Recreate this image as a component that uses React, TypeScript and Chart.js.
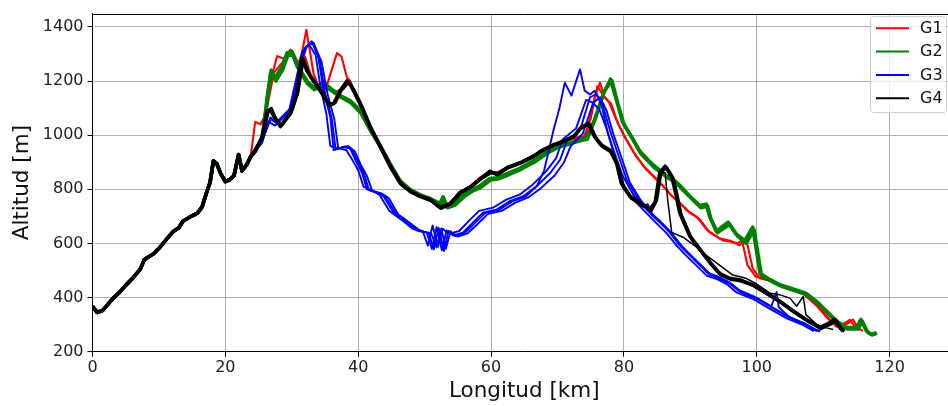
import { useEffect, useRef } from 'react';
import { Chart, registerables } from 'chart.js';

Chart.register(...registerables);

type Pt = [number, number];

const xTicks = [0, 20, 40, 60, 80, 100, 120];
const yTicks = [200, 400, 600, 800, 1000, 1200, 1400];
const groupNames = ['G1', 'G2', 'G3', 'G4'];
const groupColors = ['#ff0000', '#008000', '#0000ff', '#000000'];

// shared first part of every track [km, altitude m]
const commonStart: Pt[] = [
  [0, 368], [0.7, 345], [1.5, 352], [2.3, 375], [3.2, 400], [4.1, 420], [5, 445], [6, 470],
  [7.2, 505], [7.8, 540], [8.4, 550], [9.2, 562], [10, 582], [10.8, 605], [11.5, 626], [12.2, 645],
  [13, 658], [13.6, 682], [14.3, 692], [15, 702], [15.8, 712], [16.5, 735], [17.2, 790], [17.7, 825],
  [18.2, 905], [18.7, 895], [19.3, 858], [20, 828], [20.6, 835], [21.3, 850], [22, 928], [22.5, 868],
  [23.2, 890], [23.8, 920],
];

const g1TrackA: Pt[] = [
  [24.5, 1049], [25.3, 1040], [26, 1075], [26.8, 1200], [27.8, 1292], [28.8, 1282], [29.8, 1316],
  [30.8, 1250], [31.5, 1300], [32.2, 1389], [33.3, 1225], [34.3, 1164], [35.3, 1185], [36.8, 1303],
  [37.5, 1290], [38.3, 1213], [38.8, 1200], [40.3, 1112], [41.8, 1028], [43.3, 958], [44.8, 888],
  [46.3, 826], [47.8, 795], [49.3, 778], [50.8, 765], [52.3, 742], [53.8, 750], [55.3, 790],
  [56.8, 810], [58.3, 842], [59.8, 868], [60.9, 860], [62.4, 882], [64.4, 899], [66.4, 923],
  [68.4, 950], [69.4, 960], [71, 978], [72.4, 988], [73.4, 982], [74.3, 1000], [75.6, 1140],
  [76.4, 1194], [77.1, 1140], [78.1, 1115], [79.1, 1043], [80.4, 982], [81.9, 921], [83.4, 872],
  [84.9, 836], [86.4, 799], [87.4, 770], [88.4, 751], [89.9, 714], [91.4, 690], [92.9, 641],
  [94.9, 611], [96.4, 605], [97.4, 593], [98.4, 617], [99.4, 507], [100.5, 471], [102.4, 459],
  [104.9, 435], [107.4, 410], [109.5, 362], [111, 319], [112.5, 289], [113.5, 301], [114.5, 319],
  [115.2, 289], [116, 277],
];

const g1TrackB: Pt[] = [
  [24.5, 950], [25.5, 990], [26.5, 1130], [27.3, 1230], [28.3, 1260], [29.3, 1290], [30.3, 1300],
  [31.2, 1255], [32, 1290], [33, 1210], [34, 1180], [35.3, 1170], [36.5, 1160], [37.8, 1170],
  [38.6, 1195], [39.5, 1150], [40.6, 1100], [42, 1020], [43.5, 950], [45, 880], [46.5, 820],
  [48, 792], [49.5, 772], [51, 760], [52.5, 738], [54, 752], [55.5, 792], [57, 812], [58.5, 845],
  [60, 865], [61, 862], [62.6, 884], [64.6, 900], [66.6, 925], [68.6, 952], [70, 966], [71.5, 982],
  [73, 992], [74, 995], [75, 1060], [76, 1180], [76.8, 1150], [77.8, 1120], [78.8, 1060],
  [80, 1000], [81.5, 935], [83, 885], [84.5, 848], [86, 810], [87, 780], [88, 760], [89.5, 722],
  [91, 698], [92.5, 650], [94.5, 618], [96, 610], [97, 600], [97.8, 610], [98.6, 520], [99.8, 478],
  [102, 462], [104.5, 440], [107, 414], [109, 370], [110.6, 325], [112, 292], [113.2, 305],
  [114, 318], [114.8, 292], [115.5, 280],
];

const g2TrackA: Pt[] = [
  [24.5, 945], [25.5, 982], [26.2, 1110], [26.8, 1225], [27.5, 1213], [28.5, 1250], [29.3, 1304],
  [30, 1310], [30.8, 1261], [31.5, 1232], [32.3, 1200], [33.3, 1176], [34.8, 1194], [36, 1170],
  [37.3, 1146], [38.8, 1128], [40.3, 1091], [41.8, 1022], [43.3, 962], [44.8, 895], [46.3, 832],
  [47.8, 800], [49.3, 780], [50.8, 766], [52.3, 748], [52.8, 772], [53.3, 738], [54.5, 746],
  [55.8, 778], [57, 798], [58.3, 812], [59.8, 840], [60.9, 842], [62.4, 858], [64.4, 878],
  [66.4, 905], [68.4, 938], [70, 958], [72, 972], [73.5, 985], [74.4, 990], [75.6, 1055],
  [76.9, 1152], [78, 1207], [78.9, 1128], [79.8, 1049], [81.3, 988], [82.4, 940], [84.4, 890],
  [86.4, 850], [87.5, 835], [88.4, 815], [89.9, 775], [91.4, 740], [92.4, 745], [92.9, 700],
  [93.9, 645], [95.7, 678], [96.9, 635], [98.2, 610], [99.4, 660], [100.5, 490], [102, 466],
  [103.5, 447], [105, 435], [107.4, 416], [109, 386], [110.5, 350], [112, 313], [113.5, 289],
  [115, 289], [115.7, 319], [116.5, 277], [117.2, 264], [118, 270],
];

const g2TrackB: Pt[] = [
  [24.5, 940], [25.6, 990], [26.3, 1140], [26.9, 1240], [27.6, 1200], [28.6, 1240], [29.4, 1295],
  [30.1, 1300], [30.9, 1250], [31.6, 1220], [32.4, 1190], [33.4, 1168], [34.9, 1185], [36.1, 1162],
  [37.4, 1140], [38.9, 1120], [40.4, 1082], [41.9, 1015], [43.4, 955], [44.9, 888], [46.4, 826],
  [47.9, 795], [49.4, 776], [50.9, 760], [52.4, 742], [52.9, 762], [53.4, 732], [54.6, 742],
  [55.9, 772], [57.1, 792], [58.4, 806], [59.9, 834], [61, 838], [62.5, 852], [64.5, 874],
  [66.5, 900], [68.5, 934], [70.1, 955], [72.1, 970], [73.6, 980], [74.5, 985], [75.8, 1070],
  [77.1, 1165], [78.2, 1200], [79.1, 1115], [80, 1040], [81.5, 978], [82.6, 930], [84.6, 880],
  [86.6, 842], [87.7, 828], [88.6, 805], [90.1, 768], [91.6, 732], [92.6, 738], [93.1, 690],
  [94.1, 640], [95.9, 670], [97.1, 628], [98.4, 600], [99.6, 650], [100.7, 482], [102.2, 460],
  [103.7, 442], [105.2, 430], [107.6, 410], [109.2, 380], [110.7, 344], [112.2, 308], [113.7, 284],
  [115.2, 284], [115.9, 312], [116.7, 272], [117.4, 262], [118.1, 268],
];

const g3TrackA: Pt[] = [
  [24.5, 945], [25.5, 975], [26.8, 1060], [27.8, 1043], [28.8, 1070], [29.8, 1091], [31, 1225],
  [32, 1322], [33, 1347], [34, 1286], [34.8, 1164], [35.8, 1067], [36.3, 945], [37.8, 957],
  [38.8, 950], [39.8, 897], [40.6, 860], [41.3, 800], [42.8, 787], [43.8, 775], [45.3, 714],
  [47.3, 678], [48.8, 648], [50.3, 641], [51.1, 580], [51.8, 660], [52.6, 575], [53.3, 648],
  [54.3, 629], [55.8, 641], [57.3, 678], [58.8, 714], [60.9, 726], [62.9, 757], [64.9, 775],
  [66.9, 812], [68.9, 860], [70.4, 909], [71.4, 976], [73.4, 1018], [74.9, 1140], [75.9, 1152],
  [76.9, 1103], [77.9, 1018], [78.9, 945], [80.4, 836], [81.9, 775], [83.4, 726], [84.4, 700],
  [85.4, 678], [86.9, 641], [88.4, 593], [89.9, 556], [91.4, 520], [92.9, 483], [94.4, 471],
  [95.9, 453], [97.4, 422], [99.9, 398], [102.4, 362], [105, 325], [107.4, 301], [109, 277],
  [109.6, 280],
];

const g3TrackB: Pt[] = [
  [24.5, 945], [25.5, 980], [26.8, 1065], [27.8, 1050], [28.8, 1075], [29.8, 1100], [31.2, 1250],
  [32.3, 1330], [33.3, 1340], [34.5, 1270], [35.4, 1150], [36.4, 1060], [37, 950], [38.5, 960],
  [39.5, 940], [40.4, 890], [41.3, 850], [42.1, 795], [43.5, 785], [44.6, 768], [46, 708],
  [48, 672], [49.5, 644], [51, 636], [51.8, 585], [52.5, 655], [53.2, 580], [53.9, 645], [55, 625],
  [56.4, 636], [58, 672], [59.5, 708], [61.6, 720], [63.6, 750], [65.6, 770], [67.6, 806],
  [69.6, 852], [71, 900], [72, 960], [73.8, 1005], [75.4, 1120], [76.4, 1140], [77.4, 1090],
  [78.4, 1005], [79.4, 935], [80.9, 825], [82.4, 765], [83.9, 718], [85.9, 670], [87.4, 632],
  [88.9, 585], [90.4, 548], [91.9, 512], [93.4, 476], [94.9, 465], [96.4, 446], [97.9, 416],
  [100.4, 392], [102.9, 356], [105.5, 320], [107.9, 295], [109.5, 274],
];

const g3TrackC: Pt[] = [
  [24.5, 945], [25.5, 970], [26.5, 1050], [27.5, 1035], [28.5, 1060], [29.5, 1080], [30.6, 1200],
  [31.6, 1310], [32.6, 1335], [33.6, 1295], [34.3, 1180], [35.2, 1080], [35.8, 960], [37.2, 950],
  [38.2, 945], [39.2, 905], [40, 870], [40.8, 810], [42.3, 792], [43.2, 780], [44.7, 720],
  [46.7, 684], [48.2, 654], [49.7, 646], [50.5, 592], [51.2, 666], [52, 588], [52.7, 654],
  [53.7, 635], [55.2, 646], [56.7, 684], [58.2, 720], [60.3, 732], [62.3, 762], [64.3, 780],
  [66.3, 818], [68.3, 866], [69.8, 915], [70.8, 985], [72.8, 1025], [74.3, 1130], [75.3, 1120],
  [76.3, 1095], [77.3, 1030], [78.3, 955], [79.8, 850], [81.3, 785], [82.8, 735], [83.6, 745],
  [84.3, 705], [85.3, 686], [86.8, 648], [88.3, 600], [89.8, 562], [91.3, 526], [92.8, 490],
  [94.3, 476], [95.8, 458], [97.3, 428], [99.8, 402], [102.2, 368], [103, 420], [103.3, 365],
  [104.8, 330], [107.2, 305], [108.5, 282], [109, 278],
];

const g3TrackD: Pt[] = [
  [24.5, 945], [25.5, 978], [26.8, 1062], [27.8, 1046], [28.8, 1072], [29.8, 1095], [31.1, 1238],
  [32.1, 1326], [33.1, 1344], [34.2, 1280], [35, 1158], [36, 1064], [36.6, 948], [38.1, 958],
  [39.1, 946], [40.1, 893], [40.9, 856], [41.6, 798], [43.1, 786], [44.1, 772], [45.6, 712],
  [47.6, 676], [49.1, 646], [50.6, 640], [51.4, 578], [52.1, 658], [52.9, 572], [53.6, 646],
  [54.6, 627], [56.1, 640], [57.6, 676], [59.1, 712], [61.2, 724], [63.2, 755], [65.2, 773],
  [66.9, 812], [68, 870], [69.4, 1018], [70.3, 1100], [71.1, 1194], [72.1, 1146], [73.4, 1243],
  [74.1, 1164], [74.9, 1150], [75.6, 1164], [76.6, 1115], [77.6, 1006], [78.9, 897], [80.4, 787],
  [81.9, 750], [83.4, 712], [85, 672], [86.5, 636], [88, 590], [89.5, 552], [91, 516], [92.5, 480],
  [94, 468], [95.5, 450], [97, 418], [99.5, 394], [102, 358], [104.6, 322], [107, 298], [108.6, 276],
];

const g4TrackA: Pt[] = [
  [24.5, 945], [25.5, 990], [26.3, 1091], [26.8, 1092], [27.5, 1062], [28.3, 1032], [29.8, 1079],
  [30.8, 1152], [31.5, 1286], [32.3, 1237], [33.3, 1200], [34.3, 1164], [35.5, 1115], [36.3, 1117],
  [37.3, 1164], [38.3, 1200], [38.8, 1188], [39.3, 1164], [40.3, 1115], [41.8, 1030], [43.3, 958],
  [44.8, 885], [46.3, 824], [47.8, 793], [49.3, 775], [50.8, 763], [52.3, 733], [53.8, 745],
  [55.3, 787], [56.8, 806], [58.3, 836], [59.8, 866], [60.9, 854], [62.4, 878], [64.4, 897],
  [66.4, 921], [67.4, 939], [68.4, 951], [69.4, 963], [70.9, 976], [72.4, 994], [73.4, 1024],
  [74.6, 1043], [75.6, 994], [76.6, 963], [77.9, 945], [78.9, 897], [79.6, 824], [80.9, 775],
  [82.4, 751], [83.9, 726], [84.7, 751], [85.4, 860], [86.2, 885], [87.2, 848], [87.9, 775],
  [88.4, 714], [89.9, 629], [91.4, 580], [92.9, 532], [94.4, 489], [95.9, 471], [97.4, 466],
  [99.4, 447], [101.5, 416], [103.5, 386], [105.5, 350], [107.4, 319], [109.5, 289], [111, 307],
  [111.7, 319], [112.5, 289], [113, 277],
];

const g4TrackB: Pt[] = [
  [24.5, 940], [25.6, 995], [26.4, 1085], [26.9, 1098], [27.6, 1058], [28.4, 1036], [29.9, 1085],
  [30.9, 1160], [31.7, 1280], [32.5, 1230], [33.5, 1192], [34.5, 1158], [35.7, 1110], [36.5, 1120],
  [37.5, 1170], [38.5, 1195], [39, 1180], [39.5, 1158], [40.5, 1108], [42, 1022], [43.5, 950],
  [45, 878], [46.5, 818], [48, 790], [49.5, 772], [51, 758], [52.5, 730], [54, 748], [55.5, 790],
  [57, 810], [58.5, 840], [60, 862], [61.1, 858], [62.6, 882], [64.6, 900], [66.6, 925],
  [67.6, 942], [68.6, 955], [69.6, 966], [71.1, 980], [72.6, 998], [73.6, 1030], [74.8, 1040],
  [75.8, 988], [76.8, 958], [78.1, 938], [79.1, 888], [79.8, 815], [81.1, 768], [82.6, 745],
  [84.1, 722], [84.9, 760], [85.6, 868], [86.4, 880], [87.4, 840], [88.1, 765], [88.6, 705],
  [90.1, 620], [91.6, 572], [93.1, 525], [94.6, 484], [96.1, 468], [97.6, 462], [99.6, 444],
  [101.7, 412], [103.7, 382], [105.7, 346], [107.6, 315], [109.7, 286], [111.2, 304], [111.9, 316],
  [112.7, 286], [113.2, 275],
];

// thin G4 track leaves the main G4 line after the 86 km bump
const g4ThinSplitKm = 85.4;
const g4ThinTail: Pt[] = [
  [86.2, 862], [86.6, 760], [87.2, 641], [88.9, 623], [90.9, 587], [92.4, 556], [94.4, 520],
  [96.4, 483], [98.4, 471], [100, 450], [102, 416], [103.5, 410], [105, 398], [106, 368],
  [107, 404], [107.4, 337], [109, 301], [110.5, 288], [111.5, 282],
];

const FONT = "'DejaVu Sans', sans-serif";

export default function App() {
  const ref = useRef<HTMLCanvasElement | null>(null);

  useEffect(() => {
    if (!ref.current) return;
    const withStart = (tail: Pt[]) => commonStart.concat(tail);
    const tracks: { group: number; pts: Pt[]; width: number }[] = [
      { group: 0, pts: withStart(g1TrackA), width: 2.1 },
      { group: 0, pts: withStart(g1TrackB), width: 2.1 },
      { group: 1, pts: withStart(g2TrackA), width: 3.6 },
      { group: 1, pts: withStart(g2TrackB), width: 3.6 },
      { group: 2, pts: withStart(g3TrackA), width: 1.9 },
      { group: 2, pts: withStart(g3TrackB), width: 1.9 },
      { group: 2, pts: withStart(g3TrackC), width: 1.9 },
      { group: 2, pts: withStart(g3TrackD), width: 1.9 },
      { group: 3, pts: withStart(g4TrackA), width: 3.6 },
      { group: 3, pts: withStart(g4TrackB), width: 3.6 },
      {
        group: 3,
        pts: withStart(g4TrackA.filter((p) => p[0] <= g4ThinSplitKm).concat(g4ThinTail)),
        width: 1.5,
      },
    ];

    const datasets = tracks.map((t) => ({
      label: groupNames[t.group],
      data: t.pts.map((p) => ({ x: p[0], y: p[1] })),
      borderColor: groupColors[t.group],
      backgroundColor: groupColors[t.group],
      borderWidth: t.width,
      pointRadius: 0,
      tension: 0,
      fill: false,
      borderJoinStyle: 'round' as const,
      borderCapStyle: 'butt' as const,
      order: 3 - t.group,
    }));

    const framePlugin = {
      id: 'frame',
      afterDatasetsDraw(chart: any) {
        const { ctx, chartArea } = chart;
        ctx.save();
        ctx.strokeStyle = '#000';
        ctx.lineWidth = 1;
        ctx.beginPath();
        ctx.moveTo(chartArea.left, Math.round(chartArea.top) + 0.5);
        ctx.lineTo(chartArea.right, Math.round(chartArea.top) + 0.5);
        ctx.stroke();
        ctx.restore();
      },
    };

    const legendPlugin = {
      id: 'groupLegend',
      afterDraw(chart: any) {
        const ctx = chart.ctx as CanvasRenderingContext2D;
        const x0 = 870.5, y0 = 16.5, w = 76, h = 96, r = 3;
        ctx.save();
        ctx.beginPath();
        ctx.moveTo(x0 + r, y0);
        ctx.lineTo(x0 + w - r, y0);
        ctx.arcTo(x0 + w, y0, x0 + w, y0 + r, r);
        ctx.lineTo(x0 + w, y0 + h - r);
        ctx.arcTo(x0 + w, y0 + h, x0 + w - r, y0 + h, r);
        ctx.lineTo(x0 + r, y0 + h);
        ctx.arcTo(x0, y0 + h, x0, y0 + h - r, r);
        ctx.lineTo(x0, y0 + r);
        ctx.arcTo(x0, y0, x0 + r, y0, r);
        ctx.closePath();
        ctx.fillStyle = 'rgba(255,255,255,0.8)';
        ctx.fill();
        ctx.strokeStyle = '#d0d0d0';
        ctx.lineWidth = 1;
        ctx.stroke();
        groupNames.forEach((name, i) => {
          const y = 28.3 + i * 23.3;
          ctx.strokeStyle = groupColors[i];
          ctx.lineWidth = 2;
          ctx.beginPath();
          ctx.moveTo(876, y);
          ctx.lineTo(909, y);
          ctx.stroke();
          ctx.fillStyle = '#111';
          ctx.font = `16px ${FONT}`;
          ctx.textBaseline = 'middle';
          ctx.textAlign = 'left';
          ctx.fillText(name, 920, y + 0.5);
        });
        ctx.restore();
      },
    };

    const chart = new Chart(ref.current, {
      type: 'line',
      data: { datasets },
      options: {
        animation: false,
        responsive: false,
        devicePixelRatio: 1,
        layout: { padding: { top: 8.3, left: 0, right: 0, bottom: 0 } },
        plugins: { legend: { display: false }, tooltip: { enabled: false } },
        scales: {
          x: {
            type: 'linear',
            min: 0,
            max: 130,
            afterBuildTicks: (scale: any) => {
              scale.ticks = xTicks.map((v) => ({ value: v }));
            },
            afterFit: (scale: any) => {
              scale.height = 54.3;
            },
            grid: { color: '#b0b0b0', lineWidth: 1, tickColor: '#000', tickLength: 5 },
            border: { color: '#000', width: 1 },
            ticks: {
              color: '#222',
              font: { family: FONT, size: 16 },
              padding: 2,
              maxRotation: 0,
              callback: (v: any) => String(v),
            },
            title: {
              display: true,
              text: 'Longitud [km]',
              color: '#111',
              font: { family: FONT, size: 21.5 },
              padding: { top: 0, bottom: 2 },
            },
          },
          y: {
            type: 'linear',
            min: 200,
            max: 1449,
            afterBuildTicks: (scale: any) => {
              scale.ticks = yTicks.map((v) => ({ value: v }));
            },
            afterFit: (scale: any) => {
              scale.width = 92.5;
            },
            grid: { color: '#b0b0b0', lineWidth: 1, tickColor: '#000', tickLength: 5 },
            border: { color: '#000', width: 1 },
            ticks: {
              color: '#222',
              font: { family: FONT, size: 16 },
              padding: 4,
              callback: (v: any) => String(v),
            },
            title: {
              display: true,
              text: 'Altitud [m]',
              color: '#111',
              font: { family: FONT, size: 21.5 },
              padding: { top: 10, bottom: 0 },
            },
          },
        },
      },
      plugins: [framePlugin, legendPlugin],
    });
    return () => chart.destroy();
  }, []);

  return (
    <div style={{ position: 'absolute', left: 0, top: 0, width: 948, height: 406, overflow: 'hidden', background: '#fff' }}>
      <canvas ref={ref} width={956} height={406} style={{ display: 'block' }} />
    </div>
  );
}
